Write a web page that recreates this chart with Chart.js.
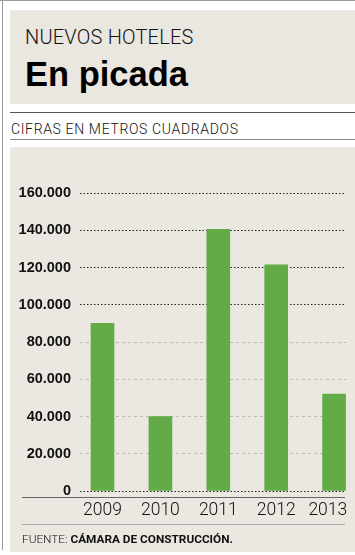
<!DOCTYPE html>
<html>
<head>
<meta charset="utf-8">
<script src="https://cdn.jsdelivr.net/npm/chart.js@4/dist/chart.umd.min.js"></script>
<style>
  html, body { margin:0; padding:0; background:#fff; }
  body { width:355px; height:555px; position:relative; overflow:hidden; }
  .abs { position:absolute; }
  #topline { left:0; top:0; width:355px; height:1px; background:#9a9a9a; }
  #leftline { left:2px; top:0; width:1px; height:550px; background:#9a9a9a; }
  #header { left:10px; top:10px; width:345px; height:94px; background:#eae6e0; }
  #kicker { left:25px; top:26.5px; font-family:Roboto, sans-serif; font-weight:300; font-size:20px; letter-spacing:0.2px; line-height:1; color:#111; white-space:nowrap; }
  #title { left:25px; top:56.5px; font-family:"Liberation Sans", Arial, sans-serif; font-weight:bold; font-size:34.5px; line-height:1; color:#000; white-space:nowrap; }
  #line1 { left:10px; top:112px; width:345px; height:1px; background:#555; }
  #sub { left:11px; top:122px; font-family:Roboto, sans-serif; font-weight:300; font-size:14px; letter-spacing:0.65px; line-height:1; color:#111; white-space:nowrap; }
  #line2 { left:10px; top:139px; width:345px; height:1px; background:#8a8a8a; }
  #panel { left:10px; top:147px; width:345px; height:405px; background:#ebe7e1; }
  #wrap { left:10px; top:147px; width:345px; height:383px; }
  #base { left:22px; top:497px; width:323px; height:1px; background:#666; }
  #line3 { left:22px; top:524px; width:323px; height:1px; background:#a5a5a5; }
  #src { left:22px; top:533.5px; font-family:Roboto, sans-serif; font-size:11.8px; line-height:1; color:#111; white-space:nowrap; }
  #src .l { font-weight:300; }
  #src .b { font-weight:bold; }
</style>
</head>
<body>
<div class="abs" id="topline"></div>
<div class="abs" id="leftline"></div>
<div class="abs" id="header"></div>
<div class="abs" id="kicker">NUEVOS HOTELES</div>
<div class="abs" id="title">En picada</div>
<div class="abs" id="line1"></div>
<div class="abs" id="sub">CIFRAS EN METROS CUADRADOS</div>
<div class="abs" id="line2"></div>
<div class="abs" id="panel"></div>
<div class="abs" id="wrap"><canvas id="c" width="345" height="383"></canvas></div>
<div class="abs" id="base"></div>
<div class="abs" id="line3"></div>
<div class="abs" id="src"><span class="l">FUENTE: </span><span class="b">CÁMARA DE CONSTRUCCIÓN.</span></div>
<script>
const years = ['2009', '2010', '2011', '2012', '2013'];
const metros = [90000, 40000, 140500, 121500, 52000];
const yTicks = [0, 20000, 40000, 60000, 80000, 100000, 120000, 140000, 160000];

function fmt(v) { return String(v).replace(/\B(?=(\d{3})+(?!\d))/g, '.'); }

new Chart(document.getElementById('c'), {
  type: 'bar',
  data: {
    datasets: [{
      data: metros.map((v, i) => ({ x: i, y: v })),
      backgroundColor: '#62ab46',
      borderWidth: 0,
      barThickness: 23
    }]
  },
  options: {
    responsive: false,
    animation: false,
    events: [],
    layout: { padding: { top: 46, right: 9, left: 0, bottom: 0 } },
    plugins: { legend: { display: false }, tooltip: { enabled: false } },
    scales: {
      x: {
        type: 'linear',
        offset: false,
        min: -0.389,
        max: 4.206,
        afterBuildTicks: s => { s.ticks = years.map((_, i) => ({ value: i })); },
        afterFit: s => { s.paddingLeft = 0; s.paddingRight = 0; },
        grid: { display: false, drawTicks: false, offset: false },
        border: { display: false },
        ticks: {
          padding: 9,
          color: '#111',
          font: { family: 'Roboto', weight: '300', size: 17.5 },
          callback: v => (v === years.length - 1 ? years[v] + '\u2002\u2009' : years[v]),
          maxRotation: 0,
          autoSkip: false
        }
      },
      y: {
        min: 0,
        max: 160000,
        afterBuildTicks: s => { s.ticks = yTicks.map(v => ({ value: v })); },
        afterFit: s => { s.width = 70; },
        grid: {
          drawTicks: false,
          lineWidth: 1,
          color: c => (c.tick && (c.tick.value >= 100000 || c.tick.value === 0)) ? '#222' : '#bdb9b3'
        },
        border: {
          display: false,
          dash: c => (c.tick && (c.tick.value >= 100000 || c.tick.value === 0)) ? [1.5, 2] : [3, 3]
        },
        ticks: {
          padding: 9,
          color: '#111',
          font: { family: '"Liberation Sans", Arial, sans-serif', weight: 'bold', size: 14.5 },
          callback: v => fmt(v)
        }
      }
    }
  }
});
</script>
</body>
</html>
